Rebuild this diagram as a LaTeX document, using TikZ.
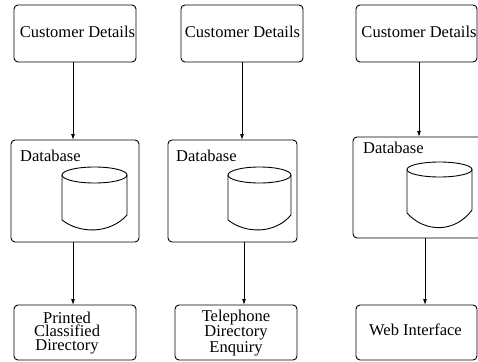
\documentclass[tikz,border=0pt]{standalone}
\usepackage{fontspec}
\setmainfont{Liberation Serif}
\usetikzlibrary{arrows.meta}
\begin{document}
\begin{tikzpicture}[x=1pt,y=-1pt,
 box/.style={draw, rounded corners=4pt, line width=0.9pt, inner sep=0pt, outer sep=0pt},
 txt/.style={font=\fontsize{16.5}{13.5}\selectfont, inner sep=0pt, align=center},
 cyl/.style={line width=0.9pt},
 conn/.style={line width=0.9pt, -{Latex[length=6pt,width=4pt]}}]
\useasboundingbox (0,0) rectangle (478,361);
\clip (0,0) rectangle (478,361);
% top boxes
\node[box, minimum width=122pt, minimum height=57pt] (cd1) at (75,33.5) {};
\node[box, minimum width=122pt, minimum height=57pt] (cd2) at (242,33.5) {};
\node[box, minimum width=121pt, minimum height=57pt] (cd3) at (416.5,33.5) {};
\node[txt] (t1) at (77.5,32) {Customer Details};
\node[txt] (t2) at (242.5,32) {Customer Details};
\node[txt] (t3) at (419,32) {Customer Details};
% database boxes
\node[box, minimum width=128pt, minimum height=102pt] (db1) at (75,191) {};
\node[box, minimum width=129pt, minimum height=102pt] (db2) at (232.5,191) {};
\node[box, minimum width=131pt, minimum height=101pt] (db3) at (418.5,187.5) {};
\node[txt, anchor=west] (l1) at (20,156) {Database};
\node[txt, anchor=west] (l2) at (176,156) {Database};
\node[txt, anchor=west] (l3) at (363,148) {Database};
% cylinders
\draw[cyl] (94.5,175) ellipse [x radius=32.5pt, y radius=8pt];
\draw[cyl] (62,175) -- (62,220) .. controls (80,234) and (110,234) .. (127,215) -- (127,175);
\draw[cyl] (259.5,175) ellipse [x radius=31.5pt, y radius=8pt];
\draw[cyl] (228,175) -- (228,220) .. controls (246,234) and (275,234) .. (291,215) -- (291,175);
\draw[cyl] (439.5,169.5) ellipse [x radius=32.5pt, y radius=7.5pt];
\draw[cyl] (407,169.5) -- (407,213) .. controls (425,233) and (455,233) .. (472,210) -- (472,169.5);
% bottom boxes
\node[box, minimum width=122pt, minimum height=55pt] (b1) at (75,332.5) {};
\node[box, minimum width=122pt, minimum height=55pt] (b2) at (236,332.5) {};
\node[box, minimum width=121pt, minimum height=55pt] (b3) at (416.5,332.5) {};
\node[txt] (bt1) at (67,333) {Printed\\Classified\\Directory};
\node[txt] (bt2) at (236,333) {Telephone\\Directory\\Enquiry};
\node[txt] (bt3) at (415.5,330) {Web Interface};
% connectors
\draw[conn] ([xshift=-2pt]cd1.south) -- ([xshift=-2pt]db1.north);
\draw[conn] (cd2.south) -- ([xshift=9.5pt]db2.north);
\draw[conn] ([xshift=2.5pt]cd3.south) -- ([xshift=0.5pt]db3.north);
\draw[conn] ([xshift=-2pt]db1.south) -- ([xshift=-2pt]b1.north);
\draw[conn] ([xshift=11.5pt]db2.south) -- ([xshift=8pt]b2.north);
\draw[conn] ([xshift=6.5pt]db3.south) -- ([xshift=8.5pt]b3.north);
\end{tikzpicture}
\end{document}
